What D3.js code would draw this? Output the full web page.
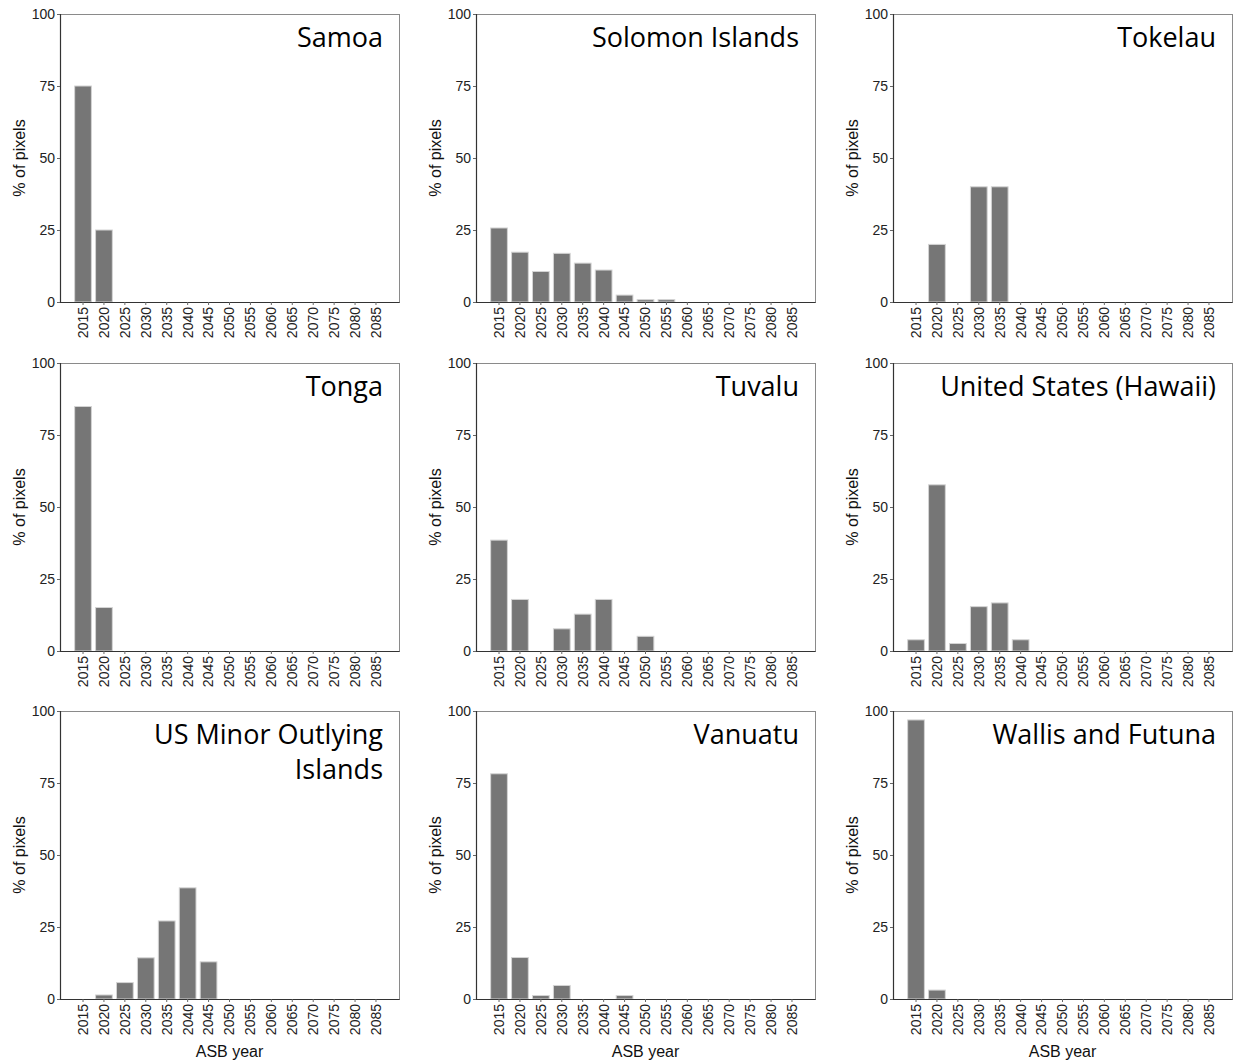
<!DOCTYPE html>
<html>
<head>
<meta charset="utf-8">
<script src="https://cdn.jsdelivr.net/npm/d3@7"></script>
<style>
  body { margin: 0; background: #fff; }
  svg { display: block; }
</style>
</head>
<body>
<svg id="chart" width="1236" height="1064"></svg>
<script>
// ---- data ----
const years = ["2015","2020","2025","2030","2035","2040","2045","2050","2055","2060","2065","2070","2075","2080","2085"];
const yTicks = [0, 25, 50, 75, 100];

const countries = ["Samoa","Solomon Islands","Tokelau","Tonga","Tuvalu","United States (Hawaii)","US Minor Outlying Islands","Vanuatu","Wallis and Futuna"];

const samoa     = [75, 25, 0, 0, 0, 0, 0, 0, 0, 0, 0, 0, 0, 0, 0];
const solomon   = [25.7, 17.3, 10.6, 16.9, 13.5, 11.1, 2.4, 0.8, 0.8, 0, 0, 0, 0, 0, 0];
const tokelau   = [0, 20, 0, 40, 40, 0, 0, 0, 0, 0, 0, 0, 0, 0, 0];
const tonga     = [84.9, 15.1, 0, 0, 0, 0, 0, 0, 0, 0, 0, 0, 0, 0, 0];
const tuvalu    = [38.5, 17.9, 0, 7.7, 12.8, 17.9, 0, 5.1, 0, 0, 0, 0, 0, 0, 0];
const hawaii    = [3.9, 57.7, 2.6, 15.4, 16.7, 3.9, 0, 0, 0, 0, 0, 0, 0, 0, 0];
const usMinor   = [0, 1.4, 5.7, 14.3, 27.1, 38.6, 12.9, 0, 0, 0, 0, 0, 0, 0, 0];
const vanuatu   = [78.2, 14.4, 1.2, 4.7, 0, 0, 1.2, 0, 0, 0, 0, 0, 0, 0, 0];
const wallis    = [96.9, 3.1, 0, 0, 0, 0, 0, 0, 0, 0, 0, 0, 0, 0, 0];

const seriesList = [samoa, solomon, tokelau, tonga, tuvalu, hawaii, usMinor, vanuatu, wallis];
const titleLines = [["Samoa"],["Solomon Islands"],["Tokelau"],["Tonga"],["Tuvalu"],["United States (Hawaii)"],["US Minor Outlying","Islands"],["Vanuatu"],["Wallis and Futuna"]];

// ---- layout ----
const svg = d3.select("#chart");
const colLefts = [60, 476, 893];
const rowTops = [14, 363, 711];
const pw = 339, ph = 288;

countries.forEach((name, i) => {
  const col = i % 3, row = Math.floor(i / 3);
  const left = colLefts[col], top = rowTops[row];
  const g = svg.append("g").attr("transform", `translate(${left},${top})`);

  const x = d3.scaleBand().domain(years).range([0, pw]).paddingInner(0.2).paddingOuter(0.7);
  const y = d3.scaleLinear().domain([0, 100]).range([ph, 0]);

  // frame (top/right lighter)
  g.append("rect").attr("x", 0.5).attr("y", 0.5).attr("width", pw).attr("height", ph)
    .attr("fill", "none").attr("stroke", "#8a8a8a").attr("stroke-width", 1);

  // bars
  const data = years.map((yr, k) => ({ yr, v: seriesList[i][k] })).filter(d => d.v > 0);
  g.selectAll("rect.bar").data(data).enter().append("rect")
    .attr("class", "bar")
    .attr("x", d => x(d.yr))
    .attr("y", d => y(d.v))
    .attr("width", x.bandwidth())
    .attr("height", d => y(0) - y(d.v))
    .attr("fill", "#767676")
    .attr("stroke", "#d4d4d4")
    .attr("stroke-width", 1);

  // y axis
  const ya = g.append("g").call(d3.axisLeft(y).tickValues(yTicks).tickSize(3).tickPadding(2));
  ya.select(".domain").attr("stroke", "#333").attr("stroke-width", 1.2);
  ya.selectAll(".tick line").attr("stroke", "#666");
  ya.selectAll(".tick text").attr("fill", "#222").style("font-family", "Liberation Sans, Arial, sans-serif").style("font-size", "14px");

  // x axis
  const xa = g.append("g").attr("transform", `translate(0,${ph})`)
    .call(d3.axisBottom(x).tickSize(3).tickPadding(2).tickSizeOuter(0));
  xa.select(".domain").attr("stroke", "#333").attr("stroke-width", 1.2);
  xa.selectAll(".tick line").attr("stroke", "#666");
  xa.selectAll(".tick text")
    .attr("fill", "#222")
    .style("font-family", "Liberation Sans, Arial, sans-serif").style("font-size", "14px")
    .attr("transform", "rotate(-90)")
    .attr("text-anchor", "end")
    .attr("x", -5).attr("y", 0).attr("dy", "0.35em");

  // y label
  g.append("text")
    .attr("transform", `translate(${-35},${ph / 2}) rotate(-90)`)
    .attr("text-anchor", "middle")
    .attr("fill", "#111")
    .style("font-family", "Liberation Sans, Arial, sans-serif").style("font-size", "16px")
    .text("% of pixels");

  // x label (bottom row only)
  if (row === 2) {
    g.append("text")
      .attr("x", x("2050") + x.bandwidth() / 2)
      .attr("y", ph + 58)
      .attr("text-anchor", "middle")
      .attr("fill", "#111")
      .style("font-family", "Liberation Sans, Arial, sans-serif").style("font-size", "16px")
      .text("ASB year");
  }

  // title
  const t = g.append("text")
    .attr("text-anchor", "end")
    .attr("fill", "#000")
    .style("font-family", "Open Sans, Noto Sans, sans-serif").style("font-size", "27px");
  titleLines[i].forEach((line, li) => {
    t.append("tspan").attr("x", pw - 16).attr("y", 33 + li * 35).text(line);
  });
});
</script>
</body>
</html>
